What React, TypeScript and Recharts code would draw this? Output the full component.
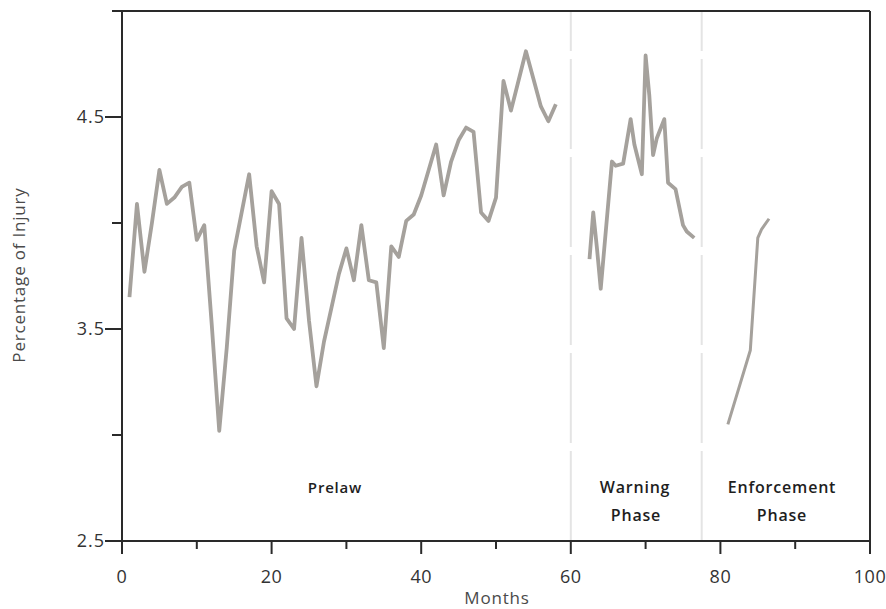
import React from 'react'
import { LineChart, Line, XAxis, YAxis, ReferenceLine } from 'recharts'

// months since start of the series, injury percentage per phase
const prelawMonths = [
  1, 2, 3, 4, 5, 6, 7, 8, 9, 10, 11, 12, 13, 14, 15, 16, 17, 18, 19, 20,
  21, 22, 23, 24, 25, 26, 27, 28, 29, 30, 31, 32, 33, 34, 35, 36, 37, 38, 39, 40,
  41, 42, 43, 44, 45, 46, 47, 48, 49, 50, 51, 52, 53, 54, 55, 56, 57, 58,
]
const prelawValues = [
  3.65, 4.09, 3.77, 4.0, 4.25, 4.09, 4.12, 4.17, 4.19, 3.92,
  3.99, 3.52, 3.02, 3.41, 3.87, 4.05, 4.23, 3.89, 3.72, 4.15,
  4.09, 3.55, 3.5, 3.93, 3.54, 3.23, 3.44, 3.6, 3.76, 3.88,
  3.73, 3.99, 3.73, 3.72, 3.41, 3.89, 3.84, 4.01, 4.04, 4.13,
  4.25, 4.37, 4.13, 4.29, 4.39, 4.45, 4.43, 4.05, 4.01, 4.12,
  4.67, 4.53, 4.67, 4.81, 4.68, 4.55, 4.48, 4.56,
]

const warningMonths = [62.5, 63, 63.5, 64, 65.5, 66, 67, 68, 68.5, 69.5, 70, 70.5, 71, 71.5, 72.5, 73, 74, 75, 75.5, 76.5]
const warningValues = [3.83, 4.05, 3.88, 3.69, 4.29, 4.27, 4.28, 4.49, 4.37, 4.23, 4.79, 4.6, 4.32, 4.4, 4.49, 4.19, 4.16, 3.99, 3.96, 3.93]

const enforcementMonths = [81, 84, 85, 85.5, 86.5]
const enforcementValues = [3.05, 3.4, 3.93, 3.97, 4.02]

const phaseBreaks = [60, 77.5]
const xTicks = [0, 10, 20, 30, 40, 50, 60, 70, 80, 90, 100]
const yTicks = [2.5, 3, 3.5, 4, 4.5, 5]
const yLabelled = [2.5, 3.5, 4.5]

const toRows = (months: number[], values: number[]) =>
  months.map((m, i) => ({ month: m, pct: values[i] }))

const FONT = '"Open Sans", sans-serif'
const AXIS = '#2a2a2a'
const LINE = '#a5a19c'

const XTick = (props: any) => {
  const { x, y, payload } = props
  const major = payload.value % 20 === 0
  return (
    <g>
      <line x1={x} x2={x} y1={y} y2={y + (major ? 13 : 8)} stroke={AXIS} strokeWidth={2} />
      {major && (
        <text x={x} y={y + 42} textAnchor="middle" fontFamily={FONT} fontSize={18} fill="#333" letterSpacing={0.5}>
          {payload.value}
        </text>
      )}
    </g>
  )
}

const YTick = (props: any) => {
  const { x, y, payload } = props
  const major = yLabelled.includes(payload.value)
  return (
    <g>
      <line x1={x} x2={x - (major ? 17 : 10)} y1={y} y2={y} stroke={AXIS} strokeWidth={2} />
      {major && (
        <text x={x - 17} y={y + 6} textAnchor="end" fontFamily={FONT} fontSize={18} fill="#333" letterSpacing={1}>
          {payload.value.toFixed(1)}
        </text>
      )}
    </g>
  )
}

const overlay = (left: number, top: number, bold = false): React.CSSProperties => ({
  position: 'absolute',
  left,
  top,
  transform: 'translate(-50%, -50%)',
  fontFamily: FONT,
  fontSize: bold ? 16 : 17,
  fontWeight: bold ? 600 : 400,
  letterSpacing: 0.8,
  color: bold ? '#1e1e1e' : '#4a4a4a',
  whiteSpace: 'nowrap',
  lineHeight: 1,
})

export default function App() {
  return (
    <div style={{ position: 'relative', width: 886, height: 609, overflow: 'hidden' }}>
      <style>{'body { margin: 0; }'}</style>
      <LineChart width={886} height={609} margin={{ top: 11, right: 16, bottom: 0, left: 0 }}>
        <XAxis
          dataKey="month"
          type="number"
          domain={[0, 100]}
          ticks={xTicks}
          interval={0}
          tickSize={0}
          tickMargin={0}
          tickLine={false}
          tick={<XTick />}
          height={68}
          axisLine={{ stroke: AXIS, strokeWidth: 2 }}
          allowDuplicatedCategory={false}
        />
        <YAxis
          dataKey="pct"
          type="number"
          domain={[2.5, 5]}
          ticks={yTicks}
          interval={0}
          tickSize={0}
          tickMargin={0}
          tickLine={false}
          tick={<YTick />}
          width={122}
          axisLine={{ stroke: AXIS, strokeWidth: 2 }}
        />
        {phaseBreaks.map((b) => (
          <ReferenceLine key={b} x={b} stroke="#e4e4e4" strokeWidth={2} strokeDasharray="90 8" />
        ))}
        <ReferenceLine y={5} stroke={AXIS} strokeWidth={2} />
        <ReferenceLine x={100} stroke={AXIS} strokeWidth={2} />
        <Line
          data={toRows(prelawMonths, prelawValues)}
          dataKey="pct"
          stroke={LINE}
          strokeWidth={3.8}
          strokeLinejoin="round"
          dot={false}
          isAnimationActive={false}
        />
        <Line
          data={toRows(warningMonths, warningValues)}
          dataKey="pct"
          stroke={LINE}
          strokeWidth={3.8}
          strokeLinejoin="round"
          dot={false}
          isAnimationActive={false}
        />
        <Line
          data={toRows(enforcementMonths, enforcementValues)}
          dataKey="pct"
          stroke={LINE}
          strokeWidth={3}
          strokeLinejoin="round"
          dot={false}
          isAnimationActive={false}
        />
      </LineChart>
      <div style={{ ...overlay(18, 275), transform: 'translate(-50%, -50%) rotate(-90deg)' }}>Percentage of Injury</div>
      <div style={overlay(497, 597)}>Months</div>
      <div style={{ ...overlay(335, 487, true), fontSize: 15 }}>Prelaw</div>
      <div style={overlay(635, 487, true)}>Warning</div>
      <div style={overlay(636, 515, true)}>Phase</div>
      <div style={overlay(782, 487, true)}>Enforcement</div>
      <div style={overlay(782, 515, true)}>Phase</div>
    </div>
  )
}
